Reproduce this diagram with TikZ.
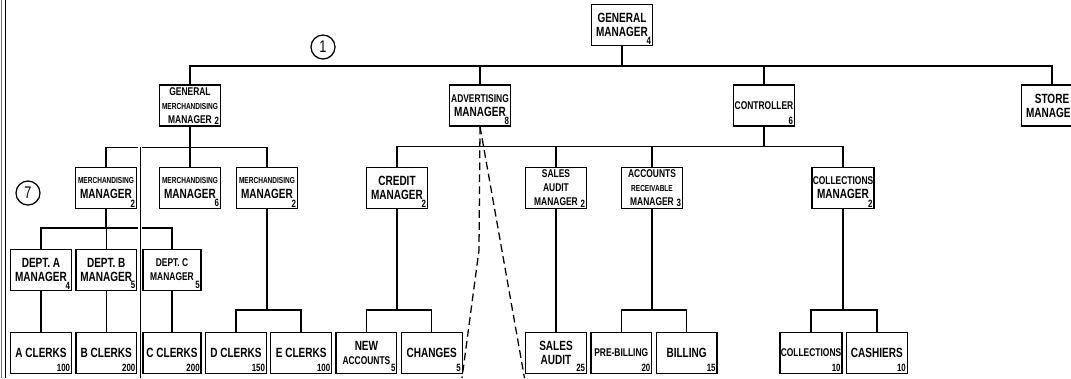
\documentclass[tikz,border=0pt]{standalone}
\usepackage{fontspec}
\setmainfont{Liberation Sans}[FakeStretch=0.75]
\usetikzlibrary{positioning}
\newcommand{\smline}{\fontsize{6.2}{6.8}\selectfont}
\newcommand{\midline}{\fontsize{8}{8.6}\selectfont}
\tikzset{
  orgbox/.style={rectangle,draw=black,line width=0.9pt,fill=white,text=black,align=center,
    font=\fontsize{9.5}{10}\selectfont\bfseries,
    minimum width=1.52cm,minimum height=1.02cm,inner sep=0.5pt},
  narrowbox/.style={orgbox,minimum width=1.45cm},
  cnt/.style={label={[anchor=south east,inner sep=1.2pt,font=\fontsize{7.5}{7.5}\selectfont\bfseries]south east:#1}},
  ln/.style={draw=black,line width=1pt},
  dashln/.style={draw=black,line width=0.9pt,dash pattern=on 5.5pt off 3pt},
  cutln/.style={draw=black,line width=0.6pt,preaction={draw=white,line width=2.4pt}},
  circnum/.style={circle,draw=black,line width=0.9pt,inner sep=0pt,minimum size=0.6cm,
    font=\fontsize{12}{12}\selectfont},
}
\begin{document}
\begin{tikzpicture}[x=0.025cm,y=-0.025cm,node distance=0.8mm]
  \useasboundingbox (0,0) rectangle (1071,378);
  \clip (0,0) rectangle (1071,378);
  \fill[white] (0,0) rectangle (1071,378);
  % page edge
  \draw[line width=0.5pt,black!55] (1,0) -- (1,378);
  \draw[line width=0.8pt] (5.5,0) -- (5.5,378);
  % top
  \node[orgbox,cnt=4] (gm) at (622,25) {GENERAL\\MANAGER};
  \node[circnum] (c1) at (323,47) {1};
  \node[orgbox,cnt=2] (gmm) at (190,105.5) {{\midline GENERAL}\\{\smline MERCHANDISING}\\{\midline MANAGER}};
  \node[orgbox,cnt=8] (adv) at (480,105.5) {{\midline ADVERTISING}\\MANAGER};
  \node[orgbox,cnt=6] (ctl) at (764,105.5) {{\midline CONTROLLER}};
  \node[orgbox] (sm) at (1052,105.5) {STORE\\MANAGER};
  % merchandising side
  \node[circnum] (c7) at (28,193) {7};
  \node[orgbox,cnt=2] (mm1) at (106,188) {{\smline MERCHANDISING}\\MANAGER};
  \node[orgbox,cnt=6] (mm2) at (190,188) {{\smline MERCHANDISING}\\MANAGER};
  \node[orgbox,cnt=2] (mm3) at (267,188) {{\smline MERCHANDISING}\\MANAGER};
  \node[orgbox,cnt=4] (da) at (41,270) {DEPT. A\\MANAGER};
  \node[orgbox,cnt=5,right=of da] (db) {DEPT. B\\MANAGER};
  \node[narrowbox,cnt=5] (dc) at (172,270) {{\midline DEPT. C}\\{\midline MANAGER}};
  \node[orgbox,cnt=100] (ac) at (41,353) {A CLERKS};
  \node[orgbox,cnt=200,right=of ac] (bc) {B CLERKS};
  \node[narrowbox,cnt=200] (cc) at (172,353) {C CLERKS};
  \node[orgbox,cnt=150,right=of cc] (dcl) {D CLERKS};
  \node[orgbox,cnt=100,right=of dcl] (ecl) {E CLERKS};
  % controller side
  \node[orgbox,cnt=2] (cm) at (397,188) {CREDIT\\MANAGER};
  \node[orgbox,cnt=2] (sam) at (556,188) {{\midline SALES}\\{\midline AUDIT}\\{\midline MANAGER}};
  \node[orgbox,cnt=3] (arm) at (652,188) {{\midline ACCOUNTS}\\{\smline RECEIVABLE}\\{\midline MANAGER}};
  \node[orgbox,cnt=2] (colm) at (843,188) {{\midline COLLECTIONS}\\MANAGER};
  \node[orgbox,cnt=5,right=of ecl] (na) {NEW\\{\midline ACCOUNTS}};
  \node[orgbox,cnt=5,right=of na] (ch) {CHANGES};
  \node[orgbox,cnt=25] (sa) at (556,353) {SALES\\AUDIT};
  \node[orgbox,cnt=20,right=of sa] (pb) {{\midline PRE-BILLING}};
  \node[orgbox,cnt=15,right=of pb] (bl) {BILLING};
  \node[orgbox,cnt=10] (col) at (811,353) {{\midline COLLECTIONS}};
  \node[orgbox,cnt=10,right=of col] (cas) {CASHIERS};
  % connectors
  \foreach \p/\c/\d in {gm/gmm/20,gm/adv/20,gm/ctl/20,gm/sm/20,
      gmm/mm1/21,gmm/mm2/21,gmm/mm3/21,
      mm1/da/19,mm1/db/19,mm1/dc/19,da/ac/20,db/bc/20,dc/cc/20,
      mm3/dcl/101,mm3/ecl/101,
      ctl/cm/20,ctl/sam/20,ctl/arm/20,ctl/colm/20,
      cm/na/101,cm/ch/101,sam/sa/60,arm/pb/101,arm/bl/101,colm/col/101,colm/cas/101}
    {\draw[ln] (\p.south) -- ++(0,\d) -| (\c.north);}
  % advertising fan
  \coordinate (dashk) at (479,250);
  \coordinate (dashl) at (462,378);
  \coordinate (dashr) at (524.5,378);
  \draw[dashln] (adv.south) -- (dashk) -- (dashl);
  \draw[dashln] (adv.south) -- (dashr);
  % cut
  \coordinate (cuttop) at (140,147);
  \coordinate (cutbot) at (140,378);
  \draw[cutln] (cuttop) -- (cutbot);
\end{tikzpicture}
\end{document}
